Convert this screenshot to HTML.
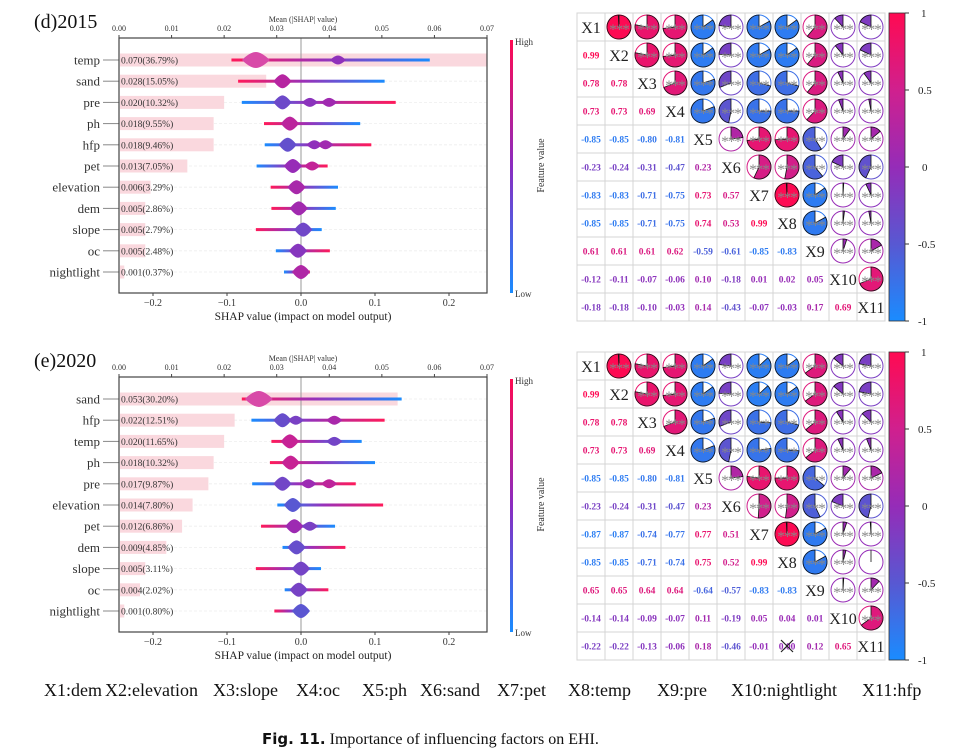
<!DOCTYPE html>
<html><head><meta charset="utf-8"><style>
html,body{margin:0;padding:0;background:#fff;}
svg{display:block;font-family:"Liberation Serif",serif;}
</style></head><body>
<svg id="fig" width="956" height="753" viewBox="0 0 956 753" xmlns="http://www.w3.org/2000/svg">
<defs>
<linearGradient id="fvgrad" x1="0" y1="0" x2="0" y2="1"><stop offset="0" stop-color="#ff0a52"/><stop offset="0.5" stop-color="#8a2cc0"/><stop offset="1" stop-color="#1a8cff"/></linearGradient>
<linearGradient id="cbgrad" x1="0" y1="0" x2="0" y2="1"><stop offset="0" stop-color="#ff0a52"/><stop offset="0.25" stop-color="#d0208e"/><stop offset="0.5" stop-color="#952cb8"/><stop offset="0.75" stop-color="#5858d2"/><stop offset="1" stop-color="#1a8cff"/></linearGradient>
</defs>
<g font-size="18" fill="#111">
<text x="44" y="696">X1:dem</text>
<text x="105" y="696">X2:elevation</text>
<text x="213" y="696">X3:slope</text>
<text x="296" y="696">X4:oc</text>
<text x="362" y="696">X5:ph</text>
<text x="420" y="696">X6:sand</text>
<text x="497" y="696">X7:pet</text>
<text x="568" y="696">X8:temp</text>
<text x="657" y="696">X9:pre</text>
<text x="731" y="696">X10:nightlight</text>
<text x="862" y="696">X11:hfp</text>
</g>
<text x="262" y="744" font-size="16" fill="#111"><tspan font-family="DejaVu Sans, sans-serif" font-weight="bold" font-size="15">Fig. 11.</tspan> Importance of influencing factors on EHI.</text>
</svg>
<script>
// ---------- SHAP data ----------
const feat2015 = ["temp","sand","pre","ph","hfp","pet","elevation","dem","slope","oc","nightlight"];
const mean2015 = [0.070,0.028,0.020,0.018,0.018,0.013,0.006,0.005,0.005,0.005,0.001];
const pct2015 = ["36.79%","15.05%","10.32%","9.55%","9.46%","7.05%","3.29%","2.86%","2.79%","2.48%","0.37%"];
const min2015 = [-0.094,-0.085,-0.080,-0.050,-0.049,-0.060,-0.041,-0.040,-0.061,-0.034,-0.023];
const max2015 = [0.174,0.113,0.128,0.080,0.095,0.036,0.050,0.047,0.028,0.039,0.012];
const blobs2015 = [[-0.061,0.05],[-0.025],[-0.025,0.012,0.038],[-0.015],[-0.018,0.018,0.033],[-0.011,0.015],[-0.006],[-0.003],[0.003],[-0.004],[0.0]];
const high2015 = [-1,-1,1,-1,1,1,-1,-1,-1,1,1];

const feat2020 = ["sand","hfp","temp","ph","pre","elevation","pet","dem","slope","oc","nightlight"];
const mean2020 = [0.053,0.022,0.020,0.018,0.017,0.014,0.012,0.009,0.005,0.004,0.001];
const pct2020 = ["30.20%","12.51%","11.65%","10.32%","9.87%","7.80%","6.86%","4.85%","3.11%","2.02%","0.80%"];
const min2020 = [-0.080,-0.067,-0.040,-0.042,-0.066,-0.032,-0.054,-0.025,-0.061,-0.022,-0.036];
const max2020 = [0.136,0.113,0.082,0.100,0.074,0.111,0.046,0.060,0.027,0.037,0.007];
const blobs2020 = [[-0.057],[-0.025,-0.007,0.045],[-0.015,0.045],[-0.014],[-0.025,0.010,0.038],[-0.011],[-0.009,0.012],[-0.006],[0.0],[-0.003],[0.0]];
const high2020 = [-1,1,-1,-1,1,1,-1,1,-1,1,-1];

const shapTicks = [-0.2,-0.1,0.0,0.1,0.2];
const shapTickLabels = ["\u22120.2","\u22120.1","0.0","0.1","0.2"];
const meanTicks = [0,0.01,0.02,0.03,0.04,0.05,0.06,0.07];
const meanTickLabels = ["0.00","0.01","0.02","0.03","0.04","0.05","0.06","0.07"];

// ---------- correlation data (lower triangle rows) ----------
const corr2015 = [[],[0.99],[0.78,0.78],[0.73,0.73,0.69],[-0.85,-0.85,-0.80,-0.81],[-0.23,-0.24,-0.31,-0.47,0.23],[-0.83,-0.83,-0.71,-0.75,0.73,0.57],[-0.85,-0.85,-0.71,-0.75,0.74,0.53,0.99],[0.61,0.61,0.61,0.62,-0.59,-0.61,-0.85,-0.83],[-0.12,-0.11,-0.07,-0.06,0.10,-0.18,0.01,0.02,0.05],[-0.18,-0.18,-0.10,-0.03,0.14,-0.43,-0.07,-0.03,0.17,0.69]];
const corr2020 = [[],[0.99],[0.78,0.78],[0.73,0.73,0.69],[-0.85,-0.85,-0.80,-0.81],[-0.23,-0.24,-0.31,-0.47,0.23],[-0.87,-0.87,-0.74,-0.77,0.77,0.51],[-0.85,-0.85,-0.71,-0.74,0.75,0.52,0.99],[0.65,0.65,0.64,0.64,-0.64,-0.57,-0.83,-0.83],[-0.14,-0.14,-0.09,-0.07,0.11,-0.19,0.05,0.04,0.01],[-0.22,-0.22,-0.13,-0.06,0.18,-0.46,-0.01,0.00,0.12,0.65]];
const varNames = ["X1","X2","X3","X4","X5","X6","X7","X8","X9","X10","X11"];
const cbTicks = [1,0.5,0,-0.5,-1];
const cbTickLabels = ["1","0.5","0","-0.5","-1"];

const NS = "http://www.w3.org/2000/svg";
const svg = document.getElementById("fig");
function mk(tag, attrs, parent) {
  const e = document.createElementNS(NS, tag);
  for (const k in attrs) e.setAttribute(k, attrs[k]);
  (parent || svg).appendChild(e);
  return e;
}
function lerp(a,b,t){return a+(b-a)*t;}
function hex(c){return [parseInt(c.slice(1,3),16),parseInt(c.slice(3,5),16),parseInt(c.slice(5,7),16)];}
const stops = [[-1,"#1a8cff"],[-0.5,"#5858d2"],[0,"#952cb8"],[0.5,"#d0208e"],[1,"#ff0a52"]];
function cmap(v){
  v=Math.max(-1,Math.min(1,v));
  for(let i=0;i<stops.length-1;i++){
    if(v<=stops[i+1][0]){
      const t=(v-stops[i][0])/(stops[i+1][0]-stops[i][0]);
      const a=hex(stops[i][1]),b=hex(stops[i+1][1]);
      return "rgb("+Math.round(lerp(a[0],b[0],t))+","+Math.round(lerp(a[1],b[1],t))+","+Math.round(lerp(a[2],b[2],t))+")";
    }
  }
  return stops[4][1];
}

// ---------- SHAP panel ----------
function shapPanel(dy, title, feats, means, pcts, mins, maxs, blobs, highs, id) {
  const g = mk("g", {});
  
  
  const L = 119, R = 487, T = 38 + dy, B = 293 + dy;
  const xS = v => 301 + v * 740;
  const xM = v => L + v / 0.07 * (R - L);
  const yR = i => 60 + dy + i * 21.2;

  const t = mk("text", {x: 34, y: 28 + dy, "font-size": 20, fill: "#111"}, g);
  t.textContent = title;
  
  

  feats.forEach((f, i) => {
    const y = yR(i);
    const gl = mk("line", {x1: L, x2: R, y1: y, y2: y, stroke: "#eee", "stroke-width": 0.8, "stroke-dasharray": "3,2"}, g);
    
    
    const bar = mk("rect", {x: L + 1, y: y - 6.5, width: Math.max(0, xM(means[i]) - L - 1), height: 13, fill: "#fad8de"}, g);
    
    
  });
  const zl = mk("line", {x1: xS(0), x2: xS(0), y1: T, y2: B, stroke: "#999", "stroke-width": 1}, g);
  
  

  feats.forEach((f, i) => {
    const y = yR(i);
    const hi = highs[i] > 0;
    const gid = "lg" + id + i;
    const lg = mk("linearGradient", {id: gid, x1: xS(mins[i]), x2: xS(maxs[i]), y1: 0, y2: 0, gradientUnits: "userSpaceOnUse"}, g);
    mk("stop", {offset: 0, "stop-color": hi ? "#1a8cff" : "#ff1a5a"}, lg);
    mk("stop", {offset: 0.45, "stop-color": "#9a30b8"}, lg);
    mk("stop", {offset: 1, "stop-color": hi ? "#ff1a5a" : "#1a8cff"}, lg);
    const ln = mk("rect", {x: xS(mins[i]), y: y - 1.5, width: xS(maxs[i]) - xS(mins[i]), height: 3, fill: "url(#" + gid + ")"}, g);
    
    
    blobs[i].forEach((b, k) => {
      const w = k === 0 ? (i === 0 ? 14 : 9) : 8, h = k === 0 ? (i === 0 ? 8 : 7) : 4.5;
      const frac = (b - mins[i]) / (maxs[i] - mins[i]);
      const col = cmap(hi ? (frac * 2 - 1) * 0.7 : (1 - frac * 2) * 0.7);
      const cx = xS(b);
      const p = mk("path", {d: `M${cx - w},${y} Q${cx - w * 0.4},${y - h} ${cx},${y - h} Q${cx + w * 0.4},${y - h} ${cx + w},${y} Q${cx + w * 0.4},${y + h} ${cx},${y + h} Q${cx - w * 0.4},${y + h} ${cx - w},${y}Z`, fill: i === 0 && k === 0 ? "#d84aa8" : col}, g);
      
      
    });
    const lab = mk("text", {x: 121, y: y + 3.5, "font-size": 9.5, fill: "#333"}, g);
    lab.textContent = means[i].toFixed(3) + "(" + pcts[i] + ")";
    
    
    const fl = mk("text", {x: 100, y: y + 4.5, "font-size": 13, fill: "#333", "text-anchor": "end"}, g);
    fl.textContent = f;
    
    
    mk("line", {x1: 103, x2: L, y1: y, y2: y, stroke: "#888", "stroke-width": 1}, g);
  });

  const box = mk("rect", {x: L, y: T, width: R - L, height: B - T, fill: "none", stroke: "#444", "stroke-width": 1.2}, g);
  
  

  shapTicks.forEach((v, k) => {
    const x = xS(v);
    mk("line", {x1: x, x2: x, y1: B, y2: B + 3, stroke: "#444"}, g);
    const tl = mk("text", {x: x, y: B + 13, "font-size": 10, fill: "#333", "text-anchor": "middle"}, g);
    tl.textContent = shapTickLabels[k];
    
    
  });
  const xt = mk("text", {x: 303, y: B + 27, "font-size": 11.5, fill: "#222", "text-anchor": "middle"}, g);
  xt.textContent = "SHAP value (impact on model output)";
  
  

  meanTicks.forEach((v, k) => {
    const x = xM(v);
    mk("line", {x1: x, x2: x, y1: T, y2: T - 3, stroke: "#444"}, g);
    const tl = mk("text", {x: x, y: T - 7, "font-size": 8, fill: "#333", "text-anchor": "middle"}, g);
    tl.textContent = meanTickLabels[k];
    
    
  });
  const tt = mk("text", {x: 303, y: T - 16, "font-size": 8, fill: "#333", "text-anchor": "middle"}, g);
  tt.textContent = "Mean (|SHAP| value)";
  
  

  const cb = mk("rect", {x: 510, y: T + 2, width: 3, height: B - T - 2, fill: "url(#fvgrad)"}, g);
  
  
  const hiT = mk("text", {x: 515, y: T + 7, "font-size": 9, fill: "#333"}, g);
  hiT.textContent = "High";
  
  
  const loT = mk("text", {x: 515, y: B + 4, "font-size": 9, fill: "#333"}, g);
  loT.textContent = "Low";
  
  
  const fv = mk("text", {x: 544, y: (T + B) / 2, "font-size": 10, fill: "#333", "text-anchor": "middle", transform: `rotate(-90 544 ${(T + B) / 2})`}, g);
  fv.textContent = "Feature value";
  
  
}

// ---------- correlation matrix ----------
function corrPanel(dy, corr, id) {
  const g = mk("g", {});
  
  
  const X0 = 577, Y0 = 13 + dy, C = 28, n = varNames.length;
  const r = (i, j) => i === j ? 1 : (i > j ? corr[i][j] : corr[j][i]);
  for (let i = 0; i < n; i++) for (let j = 0; j < n; j++) {
    const x = X0 + j * C, y = Y0 + i * C, cx = x + C / 2, cy = y + C / 2;
    const cell = mk("rect", {x: x, y: y, width: C, height: C, fill: "#fff", stroke: "#d4d4d4", "stroke-width": 1}, g);
    
    
    const v = r(i, j);
    if (i === j) {
      const t = mk("text", {x: cx, y: cy + 6, "font-size": 16, fill: "#222", "text-anchor": "middle"}, g);
      t.textContent = varNames[i];
      
      
    } else if (i > j) {
      const t = mk("text", {x: cx, y: cy + 3.5, "font-size": 9.5, "font-weight": "bold", fill: cmap(v), "text-anchor": "middle"}, g);
      t.textContent = v.toFixed(2);
      
      
      if (Math.abs(v) < 0.005) {
        mk("path", {d: `M${cx - 6},${cy - 6} L${cx + 6},${cy + 6} M${cx + 6},${cy - 6} L${cx - 6},${cy + 6}`, stroke: "#222", "stroke-width": 1.2}, g);
      }
    } else {
      const R = 12, col = cmap(v);
      const circ = mk("circle", {cx: cx, cy: cy, r: R, fill: "#fff", stroke: col, "stroke-width": 1}, g);
      
      
      const a = Math.abs(v) * 2 * Math.PI;
      if (Math.abs(v) > 0.995) {
        mk("circle", {cx: cx, cy: cy, r: R, fill: col, stroke: "#111", "stroke-width": 0.8}, g);
        mk("line", {x1: cx, y1: cy, x2: cx, y2: cy - R, stroke: "#111", "stroke-width": 0.8}, g);
      } else if (Math.abs(v) >= 0.005) {
        const s = v > 0 ? 1 : -1;
        const ex = cx + s * R * Math.sin(a), ey = cy - R * Math.cos(a);
        const large = a > Math.PI ? 1 : 0;
        const w = mk("path", {d: `M${cx},${cy} L${cx},${cy - R} A${R},${R} 0 ${large} ${v > 0 ? 1 : 0} ${ex},${ey} Z`, fill: col, stroke: "#111", "stroke-width": 0.8}, g);
        
        
      } else {
        mk("line", {x1: cx, y1: cy, x2: cx, y2: cy - R, stroke: "#111", "stroke-width": 0.8}, g);
      }
      if (Math.abs(v) >= 0.005) {
        const st = mk("text", {x: cx, y: cy + 7, "font-size": 15, fill: "#888", "text-anchor": "middle", "letter-spacing": "-1"}, g);
        st.textContent = "***";
        
        
      }
    }
  }
  const cbT = Y0, cbB = Y0 + n * C;
  const cb = mk("rect", {x: 889, y: cbT, width: 16, height: cbB - cbT, fill: "url(#cbgrad)", stroke: "#333", "stroke-width": 0.8}, g);
  
  
  cbTicks.forEach((v, k) => {
    const y = cbT + (1 - v) / 2 * (cbB - cbT);
    mk("line", {x1: 905, x2: 909, y1: y, y2: y, stroke: "#333"}, g);
    const t = mk("text", {x: v === 1 ? 921 : (v === 0 ? 922 : 918), y: y + 4, "font-size": 11, fill: "#222"}, g);
    t.textContent = cbTickLabels[k];
    
    
  });
}

shapPanel(0, "(d)2015", feat2015, mean2015, pct2015, min2015, max2015, blobs2015, high2015, "2015");
shapPanel(339, "(e)2020", feat2020, mean2020, pct2020, min2020, max2020, blobs2020, high2020, "2020");
corrPanel(0, corr2015, "2015");
corrPanel(339, corr2020, "2020");
</script>
</body></html>
